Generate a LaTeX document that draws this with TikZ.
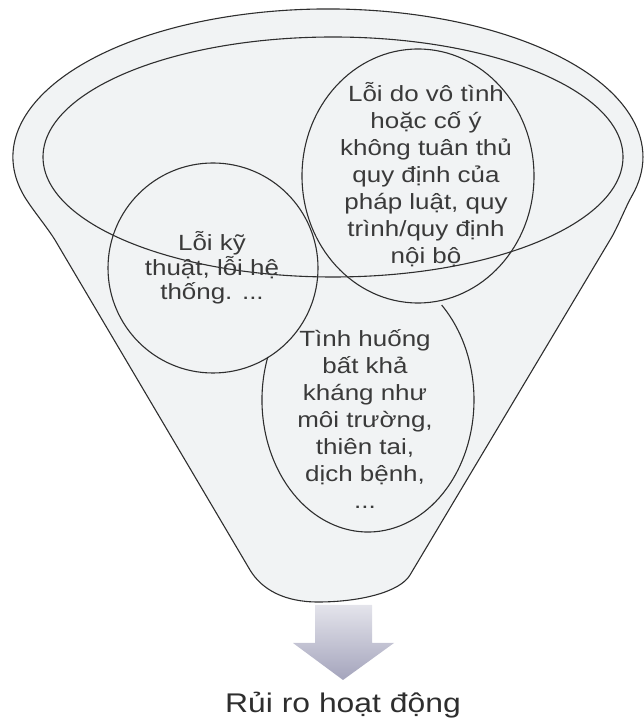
\documentclass[tikz,border=0pt]{standalone}
\usepackage{fontspec}
\setmainfont{Liberation Sans}[FakeStretch=1.18]
\usepackage{tikz}
\usetikzlibrary{shapes.geometric}
\definecolor{FunnelLine}{HTML}{2E2E2E}
\definecolor{FunnelText}{HTML}{3A3A3A}
\definecolor{FunnelFill}{HTML}{F1F3F4}
\definecolor{FunnelArrow}{HTML}{A4A4BC}

\begin{document}
\begin{tikzpicture}[x=1pt, y=1pt,
  rim/.style={draw=FunnelLine, line width=1.1pt},
  bubble/.style={rim, ellipse, inner sep=0pt},
  cause/.style={align=center, text=FunnelText, font=\fontsize{22}{27}\selectfont}]
  \useasboundingbox (0,0) rectangle (644,720);
  % funnel outline
  \coordinate (sL) at (55,480);
  \coordinate (sR) at (610,480);
  \coordinate (bL) at (250,150);
  \coordinate (bR) at (410,145);
  \draw[rim, fill=FunnelFill] (sL) .. controls (47,493) and (31,512) .. (23.7,524.7)
    arc[start angle=195, end angle=-15, x radius=315, y radius=148]
    .. controls (625,512) and (618,493) .. (sR) -- (bR)
    .. controls (400,128) and (360,118) .. (318,118)
    .. controls (285,118) and (262,130) .. (bL) -- cycle;
  \draw[rim] (333,563) ellipse[x radius=290, y radius=120];
  % the three causes
  \node[bubble, minimum width=210pt, minimum height=210pt] (tech) at (213,452) {};
  \node[bubble, minimum width=232pt, minimum height=254pt] (rules) at (418,544) {};
  \draw[rim] (368,320) ++(161:106 and 132)
    arc[start angle=161, end angle=406, x radius=106, y radius=132];
  \node[cause, font=\fontsize{22}{24.5}\selectfont] (techtxt) at (212,452)
    {Lỗi kỹ\\thuật, lỗi hệ\\thống. ...};
  \node[cause] (rulestxt) at (426,545)
    {Lỗi do vô tình\\hoặc cố ý\\không tuân thủ\\quy định của\\pháp luật, quy\\trình/quy định\\nội bộ};
  \node[cause] (forcetxt) at (365,301)
    {Tình huống\\bất khả\\kháng như\\môi trường,\\thiên tai,\\dịch bệnh,\\...};
  % outflow
  \shade[top color=FunnelArrow!30, bottom color=FunnelArrow] (315,115) -- (372,115)
    -- (372,77) -- (394,77) -- (343,40) -- (293,77) -- (315,77) -- cycle;
  \node[anchor=base, text=FunnelLine, font=\fontsize{27}{30}\selectfont] (risk) at (343,8)
    {Rủi ro hoạt động};
\end{tikzpicture}
\end{document}
